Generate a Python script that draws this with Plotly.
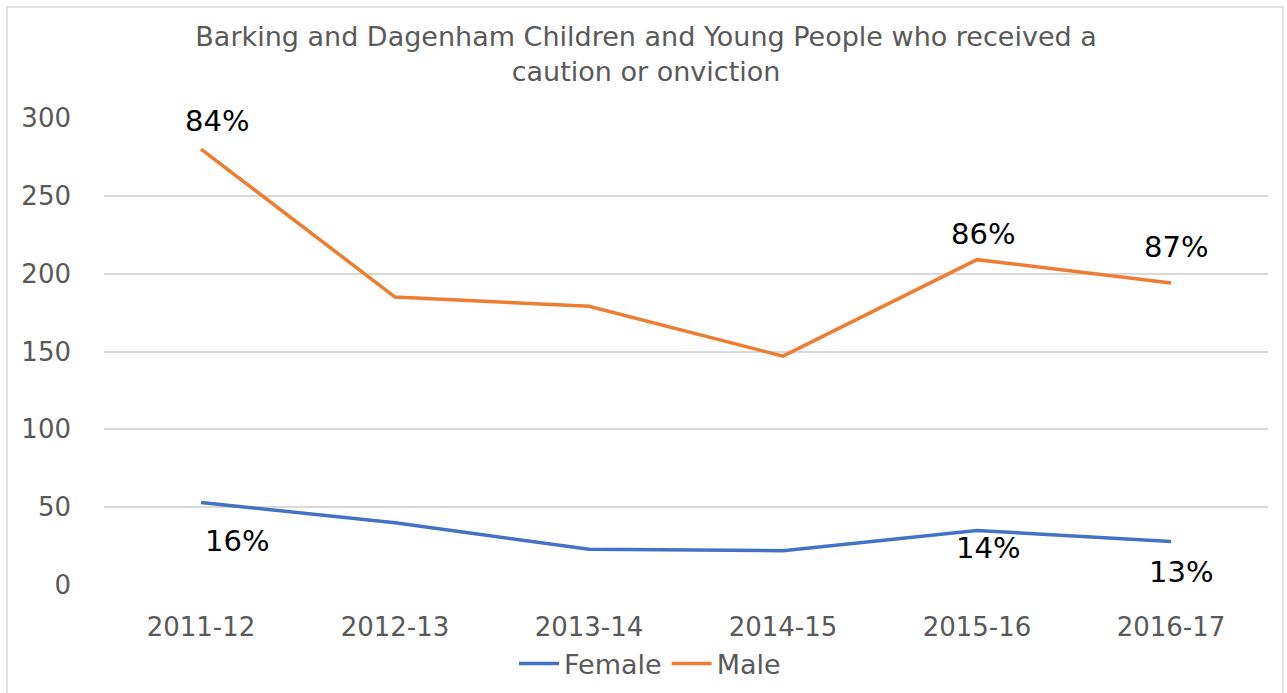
import plotly.graph_objects as go

years = ["2011-12", "2012-13", "2013-14", "2014-15", "2015-16", "2016-17"]
female = [53, 40, 23, 22, 35, 28]
male = [280, 185, 179, 147, 209, 194]
female_labels = ["16%", "", "", "", "14%", "13%"]
male_labels = ["84%", "", "", "", "86%", "87%"]
y_ticks = [0, 50, 100, 150, 200, 250, 300]

# label offsets (style only)
male_off = {0: (16, 28), 4: (6, 26), 5: (5, 36)}
female_off = {0: (36, -38), 4: (11, -17), 5: (10, -31)}

fig = go.Figure()
fig.add_trace(go.Scatter(x=years, y=female, mode="lines", name="Female",
                         line=dict(color="#4472C4", width=3.5)))
fig.add_trace(go.Scatter(x=years, y=male, mode="lines", name="Male",
                         line=dict(color="#ED7D31", width=3.5)))

ann = []
for i, lab in enumerate(male_labels):
    if lab:
        dx, dy = male_off[i]
        ann.append(dict(x=years[i], y=male[i], text=lab, showarrow=False,
                        xshift=dx, yshift=dy,
                        font=dict(family="DejaVu Sans", size=29, color="#000000")))
for i, lab in enumerate(female_labels):
    if lab:
        dx, dy = female_off[i]
        ann.append(dict(x=years[i], y=female[i], text=lab, showarrow=False,
                        xshift=dx, yshift=dy,
                        font=dict(family="DejaVu Sans", size=29, color="#000000")))

fig.update_layout(
    width=1287, height=693, autosize=False,
    margin=dict(l=104, r=19, t=118, b=108, autoexpand=False),
    paper_bgcolor="white", plot_bgcolor="white",
    title=dict(text="Barking and Dagenham Children and Young People who received a<br>caution or onviction",
               x=0.502, xanchor="center", y=1 - 46/693, yanchor="middle",
               font=dict(family="DejaVu Sans", size=27, color="#595959")),
    xaxis=dict(type="category", range=[-0.5, 5.5], showgrid=False, showline=False,
               ticks="", tickfont=dict(family="DejaVu Sans", size=26, color="#595959"),
               ticklabelstandoff=24, automargin=False),
    yaxis=dict(range=[0, 300], tickvals=y_ticks, showgrid=True, gridcolor="#D9D9D9",
               gridwidth=1.5, zeroline=False, showline=False, ticks="",
               tickfont=dict(family="DejaVu Sans", size=26, color="#595959"),
               ticklabelstandoff=32, automargin=False),
    legend=dict(orientation="h", x=(650 - 104) / 1164, xanchor="center", y=(585 - 664) / 467, yanchor="middle",
                font=dict(family="DejaVu Sans", size=27, color="#595959"),
                itemwidth=40, tracegroupgap=0),
    showlegend=True,
    annotations=ann,
    shapes=[dict(type="rect", xref="paper", yref="paper",
                 x0=(7-104)/1164, x1=(1283-104)/1164,
                 y0=(585-700)/467, y1=(585-7)/467,
                 line=dict(color="#D9D9D9", width=1.5), fillcolor="rgba(0,0,0,0)",
                 layer="below")],
)

fig.write_html("out.html", post_script="document.body.style.margin='0';",
               config={"displayModeBar": False})
